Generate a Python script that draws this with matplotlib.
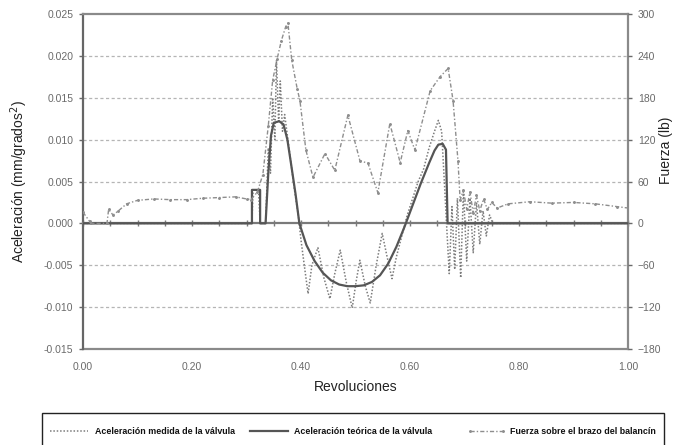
import matplotlib
matplotlib.use("Agg")
import matplotlib.pyplot as plt
from matplotlib.ticker import FixedLocator, FuncFormatter
from matplotlib.lines import Line2D
from matplotlib.patches import Rectangle

plt.rcParams['font.family'] = ['Liberation Sans Narrow', 'Liberation Sans', 'DejaVu Sans']

# Measured valve acceleration (mm/deg^2) vs revolutions
rev_medida = [0.00, 0.05, 0.10, 0.15, 0.20, 0.25, 0.30, 0.310, 0.312, 0.322, 0.325, 0.335,
              0.340, 0.344, 0.348, 0.352, 0.355, 0.359, 0.362, 0.366, 0.370, 0.376, 0.382,
              0.388, 0.395, 0.400, 0.406, 0.413, 0.420, 0.431, 0.442, 0.453, 0.462, 0.472,
              0.483, 0.494, 0.501, 0.508, 0.518, 0.527, 0.538, 0.549, 0.558, 0.567, 0.575,
              0.585, 0.595, 0.605, 0.615, 0.625, 0.635, 0.645, 0.652, 0.658, 0.663, 0.667,
              0.672, 0.677, 0.682, 0.687, 0.693, 0.698, 0.704, 0.710, 0.716, 0.722, 0.728,
              0.734, 0.740, 0.746, 0.752, 0.80, 0.85, 0.90, 0.95, 1.00]
acel_medida = [0.0, 0.0, 0.0, 0.0, 0.0, 0.0, 0.0, 0.0, 0.0040, 0.0040, 0.0, 0.0,
               0.0090, 0.0060, 0.0150, 0.0100, 0.0195, 0.0120, 0.0170, 0.0110, 0.0130, 0.0100, 0.0070,
               0.0040, 0.0010, -0.0020, -0.0050, -0.0084, -0.0050, -0.0029, -0.0065, -0.0090, -0.0060, -0.0032,
               -0.0070, -0.0101, -0.0070, -0.0044, -0.0075, -0.0095, -0.0050, -0.0012, -0.0040, -0.0066, -0.0040,
               -0.0015, 0.0010, 0.0030, 0.0050, 0.0065, 0.0090, 0.0110, 0.0123, 0.0110, 0.0050, 0.0,
               -0.0060, 0.0020, -0.0055, 0.0030, -0.0065, 0.0040, -0.0045, 0.0030, -0.0035, 0.0025, -0.0025,
               0.0015, -0.0015, 0.0010, 0.0, 0.0, 0.0, 0.0, 0.0, 0.0]

# Theoretical valve acceleration (mm/deg^2)
rev_teorica = [0.00, 0.310, 0.310, 0.325, 0.325, 0.335, 0.340, 0.345, 0.350, 0.360, 0.368,
               0.375, 0.382, 0.390, 0.397, 0.410, 0.425, 0.440, 0.455, 0.470, 0.485, 0.500,
               0.515, 0.530, 0.545, 0.560, 0.575, 0.590, 0.605, 0.620, 0.635, 0.645, 0.652,
               0.660, 0.666, 0.669, 1.00]
acel_teorica = [0.0, 0.0, 0.0040, 0.0040, 0.0, 0.0, 0.0060, 0.0105, 0.0120, 0.0122, 0.0118,
                0.0100, 0.0070, 0.0035, 0.0, -0.0026, -0.0045, -0.0059, -0.0068, -0.0073, -0.0075, -0.0075,
                -0.0074, -0.0070, -0.0062, -0.0048, -0.0028, -0.0004, 0.0022, 0.0048, 0.0072, 0.0087, 0.0094,
                0.0095, 0.0088, 0.0, 0.0]

# Force on the rocker arm (lb)
rev_fuerza = [0.000, 0.012, 0.014, 0.044, 0.047, 0.055, 0.065, 0.080, 0.100, 0.130, 0.160,
              0.190, 0.220, 0.250, 0.280, 0.300, 0.308, 0.320, 0.330, 0.340, 0.348, 0.356,
              0.364, 0.372, 0.376, 0.383, 0.393, 0.398, 0.409, 0.422, 0.444, 0.462, 0.486,
              0.508, 0.523, 0.541, 0.563, 0.582, 0.596, 0.609, 0.637, 0.655, 0.670, 0.679,
              0.688, 0.692, 0.698, 0.704, 0.710, 0.716, 0.722, 0.728, 0.735, 0.742, 0.750,
              0.760, 0.780, 0.820, 0.860, 0.900, 0.940, 0.980, 1.000]
fuerza = [16, 3, 0, 0, 20, 12, 18, 28, 33, 35, 34,
          34, 36, 37, 38, 35, 34, 45, 70, 140, 205, 235,
          262, 282, 287, 234, 193, 176, 105, 66, 100, 76, 155,
          90, 86, 44, 143, 87, 133, 105, 190, 210, 222, 176,
          90, 33, 48, 20, 45, 15, 40, 18, 35, 20, 30,
          22, 28, 31, 29, 30, 28, 24, 22]

x_ticks = [0.0, 0.2, 0.4, 0.6, 0.8, 1.0]
y_ticks = [-0.015, -0.010, -0.005, 0.000, 0.005, 0.010, 0.015, 0.020, 0.025]
f_ticks = [-180, -120, -60, 0, 60, 120, 180, 240, 300]
series_labels = ['Aceleración medida de la válvula', 'Aceleración teórica de la válvula',
                 'Fuerza sobre el brazo del balancín']

W, H = 678, 445
fig = plt.figure(figsize=(W / 100, H / 100), dpi=100)
ax = fig.add_axes([83 / W, 1 - 349 / H, (628 - 83) / W, (349 - 14) / H])

frame_c = '#8a8a8a'
tick_c = '#6a6a6a'

ax.set_xlim(0, 1)
ax.set_ylim(-0.015, 0.025)
ax.set_yticks(y_ticks)
ax.yaxis.set_major_formatter(FuncFormatter(lambda v, p: f"{v:.3f}"))
ax.tick_params(axis='y', labelsize=7.5, colors=tick_c, length=3, width=1, pad=4)
for s in ('left', 'top', 'right'):
    ax.spines[s].set_color(frame_c)
    ax.spines[s].set_linewidth(1.6)
ax.spines['left'].set_color('#666666')

# horizontal category axis crossing at zero, with small ticks
ax.spines['bottom'].set_position(('data', 0))
ax.spines['bottom'].set_color('#7a7a7a')
ax.spines['bottom'].set_linewidth(1.6)
ax.xaxis.set_major_locator(FixedLocator([i * 0.05 for i in range(21)]))
ax.tick_params(axis='x', direction='inout', length=4, width=1, colors='#7a7a7a', labelbottom=False)

# bottom frame with the revolution labels
sec = ax.secondary_xaxis(0.0)
sec.set_xticks(x_ticks)
sec.xaxis.set_major_formatter(FuncFormatter(lambda v, p: f"{v:.2f}"))
sec.tick_params(axis='x', length=0, labelsize=7.5, colors=tick_c, pad=9)
sec.spines['bottom'].set_color(frame_c)
sec.spines['bottom'].set_linewidth(1.6)
sec.set_xlabel('Revoluciones', fontsize=10, color='#222222', labelpad=6)

for yv in y_ticks:
    if yv not in (0.0, 0.025, -0.015):
        ax.axhline(yv, color='#b5b5b5', lw=0.9, ls=(0, (2.5, 2)), zorder=0)

sty_med = dict(color='#7c7c7c', lw=1.1, ls=(0, (1, 1.2)))
sty_teo = dict(color='#555555', lw=1.6)
sty_fza = dict(color='#8e8e8e', lw=1.0, ls=(0, (3, 1.5, 1, 1.5)), marker='.', markersize=2.2)

ax.plot(rev_medida, acel_medida, zorder=3, **sty_med)
ax.plot(rev_teorica, acel_teorica, zorder=4, **sty_teo)

ax.set_ylabel('Aceleración (mm/grados$^2$)', fontsize=10, color='#222222', labelpad=10)

ax2 = ax.twinx()
ax2.set_ylim(-180, 300)
ax2.set_yticks(f_ticks)
ax2.tick_params(axis='y', labelsize=7.5, colors=tick_c, length=3, width=1, pad=4)
for s in ax2.spines.values():
    s.set_visible(False)
ax2.plot(rev_fuerza, fuerza, zorder=2, **sty_fza)

fig.text(666 / W, 1 - 150 / H, 'Fuerza (lb)', rotation=90, fontsize=10, color='#222222',
         ha='center', va='center')

# legend box along the bottom edge (its lower edge runs past the figure)
fig.add_artist(Rectangle((42 / W, 1 - 450 / H), (664 - 42) / W, (450 - 413) / H,
                         transform=fig.transFigure, fill=False, edgecolor='#222222', lw=1.0))
ly = 1 - 431 / H
keys = [(50, 88, 95, sty_med), (250, 288, 294, sty_teo), (470, 503, 510, sty_fza)]
for (x0, x1, xt, sty), lab in zip(keys, series_labels):
    fig.add_artist(Line2D([x0 / W, x1 / W], [ly, ly], transform=fig.transFigure, **sty))
    fig.text(xt / W, ly, lab, fontsize=6.4, fontweight='bold', color='#111111',
             ha='left', va='center')

fig.savefig('out.png', dpi=100)
